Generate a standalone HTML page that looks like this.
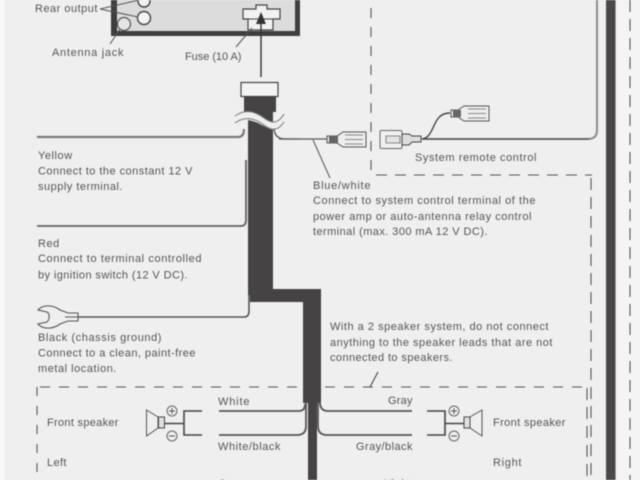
<!DOCTYPE html>
<html><head><meta charset="utf-8">
<style>
html,body{margin:0;padding:0;background:#efefef;width:640px;height:480px;overflow:hidden}
svg{display:block;filter:blur(0.6px)}
text{font-family:"Liberation Sans",sans-serif;font-size:11px;fill:#555;letter-spacing:.55px}
</style></head><body>
<svg width="640" height="480" viewBox="0 0 640 480" xmlns="http://www.w3.org/2000/svg">
<rect width="640" height="480" fill="#efefef"/>
<rect x="0" y="0" width="4" height="480" fill="#fafafa"/>
<rect x="617" y="0" width="23" height="480" fill="#f4f4f4"/>

<!-- head unit -->
<rect x="111" y="-5" width="189" height="41" fill="#3f3d3e"/>
<rect x="117" y="-5" width="178" height="36" fill="#dcdcdc"/>
<path d="M243 9H256V5H267V9H280V19H273V30H248V19H243Z" fill="#f2f2f2" stroke="#444" stroke-width="1.2"/>
<path d="M248 19H273" stroke="#444" stroke-width="1"/>
<circle cx="144" cy="1" r="6" fill="#f2f2f2" stroke="#444" stroke-width="1.4"/>
<circle cx="144" cy="18" r="6.5" fill="#f2f2f2" stroke="#444" stroke-width="1.4"/>
<circle cx="124" cy="24" r="6.5" fill="#e4e4e4" stroke="#555" stroke-width="1.2"/>
<g stroke="#555" stroke-width="1" fill="none">
<path d="M100 9L139 0M100 9L138 17"/>
<path d="M110 44L120 29"/>
<path d="M236 47L252 28"/>
</g>
<path d="M261 77V20" stroke="#333" stroke-width="1.4"/>
<path d="M261 12L256 24H266Z" fill="#333"/>

<!-- dashed boxes -->
<g fill="none" stroke="#555" stroke-width="1.1" stroke-dasharray="10 9">
<path d="M371 8V175"/>
<path d="M376 175H592" stroke-dasharray="11 8"/>
<path d="M630 0V480" stroke-dasharray="12 7"/>
<path d="M591 178V480" stroke-dasharray="12 7"/>
<path d="M587 388V480" stroke-dasharray="12 7"/>
<path d="M40 387H585" stroke-dasharray="10 9"/>
<path d="M37 387V480" stroke-dasharray="9 10"/>
</g>

<!-- right bar -->
<rect x="606" y="0" width="9.5" height="480" fill="#4a4748"/>

<!-- system wire -->
<path d="M597 0V130Q597 139 588 139H422" fill="none" stroke="#8c8c8c" stroke-width="2"/>
<path d="M589 139H422" fill="none" stroke="#555" stroke-width="1.3"/>
<path d="M422 139C436 137 431 113 450 113" fill="none" stroke="#444" stroke-width="1.4"/>

<!-- remote connectors -->
<rect x="380" y="130.500" width="22" height="18" rx="1.500" fill="#f0f0f0" stroke="#666" stroke-width="1"/>
<path d="M386 136H400V143H386Z" fill="#e4e4e4" stroke="#666" stroke-width=".8"/>
<path d="M402 134L409 134L412 136H421V142H412L409 145H402Z" fill="#ddd" stroke="#444" stroke-width="1"/>
<path d="M451 110H458L464 106H489V121H464L458 117H451Z" fill="#eee" stroke="#555" stroke-width="1"/>
<path d="M453 110H461V117H453Z" fill="#666"/>
<path d="M468 109H486M468 113.500H486M468 118H486" stroke="#888" stroke-width="1"/>

<path d="M279 139H327" stroke="#555" stroke-width="1.3"/>
<path d="M327 136H337L343 132H366V147H343L337 143H327Z" fill="#eee" stroke="#555" stroke-width="1"/>
<path d="M329 136H338V143H329Z" fill="#666"/>
<path d="M345 135H363M345 139.500H363M345 144H363" stroke="#888" stroke-width="1"/>

<!-- main cable -->
<path d="M244 96H276V112H273V289H321V403H317V480H308V403H303V302H250V295H248V112H244Z" fill="#464344"/>
<rect x="241" y="82.500" width="37" height="14" fill="#f3f3f3" stroke="#444" stroke-width="1.200"/>
<path d="M234 118C246 108 256 112 264 118S278 124 286 116V127C276 134 268 128 260 124S244 118 234 123Z" fill="#efefef"/>
<path d="M235 116C246 108 256 112 264 118S278 124 284 114M235 123C246 115 256 119 264 125S278 131 284 122" fill="none" stroke="#777" stroke-width="1"/>

<!-- wires -->
<g fill="none" stroke-linecap="butt">
<path d="M37 137H238Q244 137 244 129" stroke="#7b7b7b" stroke-width="2.200"/>
<path d="M274 129Q275 139 285 139H300" stroke="#555" stroke-width="1.300"/>
<path d="M37 226H241Q246 226 246 220V160" stroke="#626262" stroke-width="1.800"/>
<path d="M78 317H244Q249 317 249 311V295" stroke="#555" stroke-width="1.600"/>
<path d="M219 411H299Q305 411 305 404" stroke="#555" stroke-width="1.800"/>
<path d="M219 435H297Q306 435 306 426V402" stroke="#555" stroke-width="1.800"/>
<path d="M320 402Q320 411 328 411H412" stroke="#555" stroke-width="1.800"/>
<path d="M318 402V426Q318 435 327 435H412" stroke="#555" stroke-width="1.800"/>
<path d="M313 140L330 178" stroke="#555" stroke-width="1"/>
<path d="M378 372L370 387" stroke="#444" stroke-width="1.100"/>
</g>

<!-- ring terminal -->
<path d="M65 317L78 317V313H68L60 310C52 304 42 305 38 310L47 312C50 314 50 319 47 322L38 324C42 329 52 330 60 324L68 321H78V317" fill="#efefef" stroke="#555" stroke-width="1.100"/>

<!-- left speaker -->
<path d="M146.500 410L158 417V428L146.500 436Z" fill="#efefef" stroke="#555" stroke-width="1"/>
<rect x="158.500" y="417" width="6" height="11" fill="#e0e0e0" stroke="#444" stroke-width="1"/>
<path d="M164 423.500H184M202 411H184V435H202" fill="none" stroke="#444" stroke-width="1.600"/>
<circle cx="172" cy="411" r="5" fill="#efefef" stroke="#666"/>
<path d="M169 411H175M172 408V414" stroke="#555"/>
<circle cx="172" cy="436" r="5" fill="#efefef" stroke="#666"/>
<path d="M169 436H175" stroke="#555"/>

<!-- right speaker -->
<path d="M482 410L470 417V428L482 436Z" fill="#efefef" stroke="#555" stroke-width="1"/>
<rect x="464" y="417" width="6" height="11" fill="#e0e0e0" stroke="#444" stroke-width="1"/>
<path d="M464 423.500H445M427 411H445V435H427" fill="none" stroke="#444" stroke-width="1.600"/>
<circle cx="454" cy="411" r="5" fill="#efefef" stroke="#666"/>
<path d="M451 411H457M454 408V414" stroke="#555"/>
<circle cx="454" cy="436" r="5" fill="#efefef" stroke="#666"/>
<path d="M451 436H457" stroke="#555"/>

<!-- labels -->
<text x="35" y="12" textLength="63">Rear output</text>
<text x="52" y="56" textLength="72">Antenna jack</text>
<text x="185" y="60" textLength="57">Fuse (10 A)</text>
<text x="415" y="161" textLength="122">System remote control</text>

<text x="38" y="159">Yellow</text>
<text x="38" y="174.500" textLength="155">Connect to the constant 12 V</text>
<text x="38" y="190" textLength="85">supply terminal.</text>

<text x="38" y="247">Red</text>
<text x="38" y="262" textLength="164">Connect to terminal controlled</text>
<text x="38" y="278.500" textLength="150">by ignition switch (12 V DC).</text>

<text x="38" y="341" textLength="124">Black (chassis ground)</text>
<text x="38" y="356.500" textLength="158">Connect to a clean, paint-free</text>
<text x="38" y="372" textLength="79">metal location.</text>

<text x="313" y="189" textLength="58">Blue/white</text>
<text x="313" y="204" textLength="223">Connect to system control terminal of the</text>
<text x="313" y="220" textLength="219">power amp or auto-antenna relay control</text>
<text x="313" y="235" textLength="175">terminal (max. 300 mA 12 V DC).</text>

<text x="330" y="330" textLength="219">With a 2 speaker system, do not connect</text>
<text x="330" y="346" textLength="223">anything to the speaker leads that are not</text>
<text x="330" y="361" textLength="123">connected to speakers.</text>

<text x="47" y="426" textLength="72">Front speaker</text>
<text x="47" y="466" textLength="20">Left</text>
<text x="218" y="405" textLength="32">White</text>
<text x="218" y="450" textLength="63">White/black</text>
<text x="218" y="487">Green</text>
<text x="388" y="404" textLength="25">Gray</text>
<text x="356" y="450" textLength="57">Gray/black</text>
<text x="384" y="487">Violet</text>
<text x="493" y="426" textLength="73">Front speaker</text>
<text x="493" y="466" textLength="29">Right</text>
</svg>
</body></html>
